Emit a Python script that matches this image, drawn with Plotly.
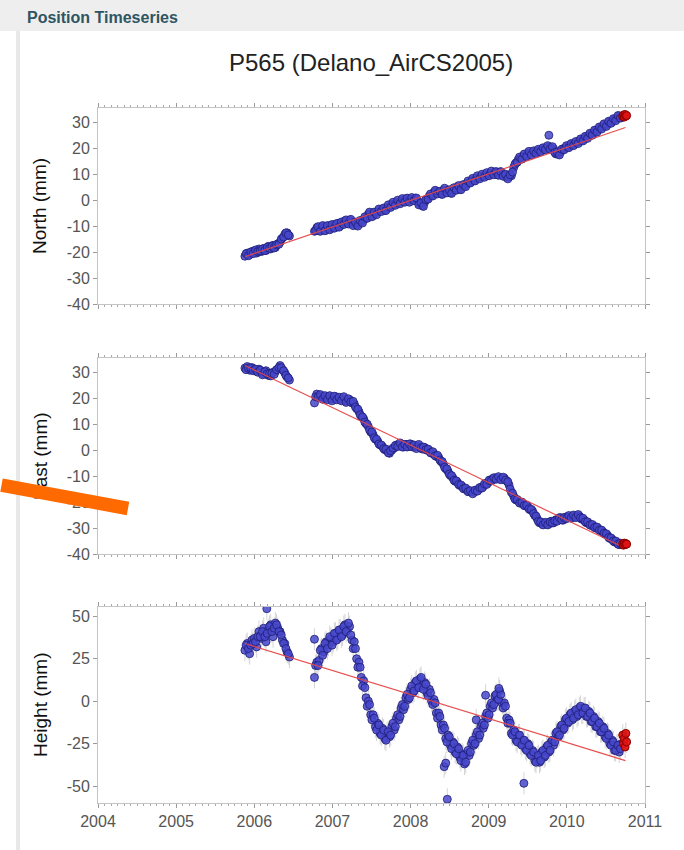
import plotly.graph_objects as go

# ---------------------------------------------------------------- data
station = "P565 (Delano_AirCS2005)"
panel_header = "Position Timeseries"
component_labels = ["North (mm)", "East (mm)", "Height (mm)"]
year_ticks = [2004, 2005, 2006, 2007, 2008, 2009, 2010, 2011]
ne_ticks = [-40, -30, -20, -10, 0, 10, 20, 30]
height_ticks = [-50, -25, 0, 25, 50]

# first occupation (late 2005 - mid 2006)
epoch_seg1 = [2005.88, 2005.91, 2005.94, 2005.97, 2006.00, 2006.03, 2006.06, 2006.09, 2006.12, 2006.15,
              2006.18, 2006.21, 2006.24, 2006.27, 2006.30, 2006.33, 2006.36, 2006.39, 2006.42, 2006.45]
north_seg1 = [-21.6, -20.4, -21.0, -19.8, -19.6, -20.4, -18.8, -19.8, -18.6, -19.4,
              -17.8, -18.8, -17.4, -18.2, -16.8, -16.2, -14.6, -13.2, -12.6, -13.8]
east_seg1 = [31.6, 32.2, 30.8, 31.8, 31.0, 30.4, 31.2, 30.0, 29.4, 30.6,
             28.8, 28.6, 30.0, 30.4, 31.2, 32.6, 31.0, 29.8, 28.2, 27.0]
height_seg1 = [30, 34, 28, 36, 37, 32, 41, 37, 43, 35,
               42, 45, 38, 46, 43, 41, 36, 34, 29, 26]

epoch_seg1_mid = [2005.895, 2005.925, 2005.955, 2005.985, 2006.015, 2006.045, 2006.075, 2006.105,
                  2006.135, 2006.165, 2006.195, 2006.225, 2006.255, 2006.285, 2006.315, 2006.345,
                  2006.375, 2006.405, 2006.435]
north_seg1_mid = [-20.6, -21.4, -20.0, -20.6, -19.2, -19.8, -19.6, -18.8, -19.4, -18.2,
                  -18.6, -17.8, -18.4, -17.2, -17.0, -15.0, -14.2, -12.6, -13.4]
east_seg1_mid = [31.0, 31.6, 31.6, 30.6, 31.2, 30.0, 30.8, 29.0, 30.2, 29.4,
                 29.4, 29.6, 29.2, 31.0, 31.8, 31.8, 30.6, 28.8, 27.8]
height_seg1_mid = [33, 31, 33, 34, 35, 38, 38, 41, 38, 40,
                   44, 41, 43, 45, 41, 39, 34, 31, 28]

# continuous record from late 2006
epoch_seg2 = [2006.77, 2006.80, 2006.83, 2006.86, 2006.89, 2006.92, 2006.95, 2006.98, 2007.01, 2007.04,
              2007.07, 2007.10, 2007.13, 2007.16, 2007.19, 2007.22, 2007.25, 2007.28, 2007.31, 2007.34,
              2007.37, 2007.40, 2007.43, 2007.46, 2007.49, 2007.52, 2007.55, 2007.58, 2007.61, 2007.64,
              2007.67, 2007.70, 2007.73, 2007.76, 2007.79, 2007.82, 2007.85, 2007.88, 2007.91, 2007.94,
              2007.97, 2008.00, 2008.03, 2008.06, 2008.09, 2008.12, 2008.15, 2008.18, 2008.21, 2008.24,
              2008.27, 2008.30, 2008.33, 2008.36, 2008.39, 2008.42, 2008.45, 2008.48, 2008.51, 2008.54,
              2008.57, 2008.60, 2008.63, 2008.66, 2008.69, 2008.72, 2008.75, 2008.78, 2008.81, 2008.84,
              2008.87, 2008.90, 2008.93, 2008.96, 2008.99, 2009.02, 2009.05, 2009.08, 2009.11, 2009.14,
              2009.17, 2009.20, 2009.23, 2009.26, 2009.29, 2009.32, 2009.35, 2009.38, 2009.41, 2009.44,
              2009.47, 2009.50, 2009.53, 2009.56, 2009.59, 2009.62, 2009.65, 2009.68, 2009.71, 2009.74,
              2009.77, 2009.80, 2009.83, 2009.86, 2009.89, 2009.92, 2009.95, 2009.98, 2010.01, 2010.04,
              2010.07, 2010.10, 2010.13, 2010.16, 2010.19, 2010.22, 2010.25, 2010.28, 2010.31, 2010.34,
              2010.37, 2010.40, 2010.43, 2010.46, 2010.49, 2010.52, 2010.55, 2010.58, 2010.61, 2010.64,
              2010.67, 2010.70]
north_seg2 = [-12.0, -10.6, -11.8, -10.9, -10.2, -11.4, -10.0, -10.9, -9.6, -10.4,
              -9.0, -9.9, -8.6, -8.0, -8.9, -7.8, -8.6, -9.2, -9.6, -8.8,
              -8.3, -7.4, -7.0, -5.4, -5.2, -6.0, -4.8, -4.6, -3.8, -3.4,
              -4.0, -2.8, -2.4, -1.6, -1.6, -0.8, -0.9, -0.2, -0.5, 0.4,
              -0.3, 0.2, 0.4, 0.8, -0.5, -1.4, -2.2, -0.8, 0.4, 1.6,
              1.8, 3.0, 3.4, 2.8, 2.4, 3.8, 3.6, 3.6, 2.8, 3.8,
              4.0, 5.0, 4.2, 5.2, 5.4, 6.4, 6.6, 7.6, 7.6, 8.6,
              8.6, 9.2, 9.2, 9.8, 9.6, 10.4, 10.4, 10.8, 9.8, 10.8,
              10.0, 9.8, 8.8, 9.0, 9.4, 12.6, 14.4, 15.8, 16.0, 17.0,
              17.0, 18.0, 18.0, 18.2, 18.6, 18.6, 19.2, 19.2, 20.0, 20.0,
              20.6, 19.8, 19.8, 17.8, 17.8, 18.6, 19.8, 20.0, 20.8, 20.8,
              21.6, 21.6, 22.4, 22.6, 23.4, 23.4, 24.4, 24.6, 25.6, 25.8,
              26.8, 27.0, 28.0, 28.2, 29.0, 29.2, 30.2, 30.2, 31.2, 31.4,
              32.4, 31.8]
east_seg2 = [18.2, 21.6, 20.6, 20.4, 20.4, 20.0, 20.6, 19.8, 19.8, 20.6,
             19.8, 19.6, 20.0, 19.0, 19.0, 19.4, 18.2, 17.8, 16.0, 14.8,
             13.0, 12.0, 10.2, 9.0, 7.0, 6.0, 4.2, 3.4, 2.0, 1.4,
             0.2, -0.2, -1.2, 0.0, 0.8, 2.0, 2.0, 2.0, 1.2, 2.2,
             1.4, 2.4, 1.2, 1.2, 1.4, 1.4, 0.4, 1.0, 0.0, -0.2,
             -1.2, -1.4, -2.4, -2.8, -4.4, -5.4, -7.2, -8.2, -9.8, -10.6,
             -12.0, -12.4, -13.6, -14.0, -15.0, -15.2, -16.0, -16.0, -16.2, -15.4,
             -15.2, -14.4, -14.0, -12.8, -12.6, -11.4, -11.4, -10.8, -10.8, -11.0,
             -11.0, -10.8, -11.8, -13.4, -16.2, -17.8, -19.2, -19.6, -20.4, -20.6,
             -21.4, -21.8, -23.0, -23.4, -25.2, -26.4, -28.0, -28.2, -28.2, -28.4,
             -28.4, -27.4, -28.0, -26.8, -26.8, -26.0, -27.0, -25.8, -25.8, -25.8,
             -25.6, -25.6, -25.4, -25.4, -26.6, -26.8, -28.0, -28.2, -29.0, -29.2,
             -30.0, -30.2, -31.0, -31.4, -32.4, -32.8, -34.0, -34.4, -35.4, -35.6,
             -36.4, -36.4]
height_seg2 = [14, 23, 24, 31, 29, 35, 33, 37, 35, 40,
               37, 42, 39, 45, 42, 44, 36, 35, 25, 23,
               14, 12, 2, 0, -8, -8, -15, -13, -19, -16,
               -22, -19, -21, -15, -17, -10, -11, -4, -5, 2,
               1, 7, 5, 11, 8, 13, 9, 11, 5, 7,
               0, 1, -7, -7, -14, -14, -22, -20, -26, -24,
               -30, -27, -33, -31, -37, -31, -32, -25, -26, -20,
               -22, -15, -16, -9, -10, -3, -4, 3, 1, 6,
               -1, -1, -10, -11, -19, -17, -23, -20, -25, -23,
               -28, -25, -31, -29, -35, -33, -36, -30, -33, -27,
               -30, -24, -26, -19, -21, -15, -17, -11, -13, -8,
               -11, -6, -9, -4, -7, -4, -9, -6, -12, -9,
               -15, -12, -18, -15, -21, -19, -25, -23, -29, -26,
               -30, -25]

epoch_seg2_mid = [2006.785, 2006.815, 2006.845, 2006.875, 2006.905, 2006.935, 2006.965, 2006.995, 2007.025, 2007.055,
                  2007.085, 2007.115, 2007.145, 2007.175, 2007.205, 2007.235, 2007.265, 2007.295, 2007.325, 2007.355,
                  2007.385, 2007.415, 2007.445, 2007.475, 2007.505, 2007.535, 2007.565, 2007.595, 2007.625, 2007.655,
                  2007.685, 2007.715, 2007.745, 2007.775, 2007.805, 2007.835, 2007.865, 2007.895, 2007.925, 2007.955,
                  2007.985, 2008.015, 2008.045, 2008.075, 2008.105, 2008.135, 2008.165, 2008.195, 2008.225, 2008.255,
                  2008.285, 2008.315, 2008.345, 2008.375, 2008.405, 2008.435, 2008.465, 2008.495, 2008.525, 2008.555,
                  2008.585, 2008.615, 2008.645, 2008.675, 2008.705, 2008.735, 2008.765, 2008.795, 2008.825, 2008.855,
                  2008.885, 2008.915, 2008.945, 2008.975, 2009.005, 2009.035, 2009.065, 2009.095, 2009.125, 2009.155,
                  2009.185, 2009.215, 2009.245, 2009.275, 2009.305, 2009.335, 2009.365, 2009.395, 2009.425, 2009.455,
                  2009.485, 2009.515, 2009.545, 2009.575, 2009.605, 2009.635, 2009.665, 2009.695, 2009.725, 2009.755,
                  2009.785, 2009.815, 2009.845, 2009.875, 2009.905, 2009.935, 2009.965, 2009.995, 2010.025, 2010.055,
                  2010.085, 2010.115, 2010.145, 2010.175, 2010.205, 2010.235, 2010.265, 2010.295, 2010.325, 2010.355,
                  2010.385, 2010.415, 2010.445, 2010.475, 2010.505, 2010.535, 2010.565, 2010.595, 2010.625, 2010.655,
                  2010.685]
north_seg2_mid = [-11.8, -10.2, -12.0, -9.8, -11.8, -9.8, -11.4, -9.4, -10.8, -9.0,
                  -10.4, -8.4, -9.4, -7.6, -9.2, -7.4, -9.8, -8.4, -10.0, -7.8,
                  -8.8, -6.4, -7.0, -4.6, -6.4, -4.6, -5.6, -3.4, -4.4, -3.0,
                  -4.0, -1.8, -2.8, -0.8, -2.0, 0.0, -1.4, 0.6, -0.8, 0.8,
                  -0.8, 1.0, -0.2, 0.8, -1.8, -1.0, -2.4, 0.2, 0.4, 2.4,
                  1.6, 3.8, 2.4, 3.4, 2.2, 4.6, 2.8, 4.0, 2.6, 4.8,
                  3.8, 5.6, 4.0, 6.0, 5.2, 7.4, 6.6, 8.4, 7.4, 9.4,
                  8.2, 10.0, 8.8, 10.6, 9.4, 11.2, 9.8, 11.0, 9.6, 11.0,
                  9.2, 10.0, 8.2, 9.8, 10.8, 13.8, 14.6, 16.6, 15.8, 17.8,
                  16.8, 18.8, 17.4, 19.0, 18.0, 19.6, 18.6, 20.2, 19.4, 21.0,
                  19.6, 20.6, 18.4, 18.6, 17.4, 19.6, 19.4, 21.0, 20.2, 21.8,
                  21.0, 22.6, 21.8, 23.6, 22.8, 24.6, 23.8, 25.8, 25.0, 27.0,
                  26.2, 28.2, 27.4, 29.4, 28.4, 30.4, 29.6, 31.4, 30.6, 32.6,
                  31.6]
east_seg2_mid = [20.6, 20.4, 21.4, 19.6, 21.0, 19.4, 21.0, 19.0, 20.8, 19.4,
                 20.4, 19.0, 20.6, 18.4, 19.8, 18.6, 18.8, 16.6, 15.8, 13.6,
                 12.8, 10.8, 10.0, 7.8, 7.0, 4.8, 4.2, 2.4, 2.0, 0.6,
                 0.4, -1.0, -0.2, 0.8, 1.8, 1.4, 2.8, 1.2, 2.2, 1.2,
                 2.4, 1.4, 2.0, 0.6, 2.2, 0.8, 1.2, 0.2, 0.4, -1.0,
                 -0.6, -2.2, -2.0, -3.8, -4.4, -6.6, -7.2, -9.2, -9.8, -11.6,
                 -11.8, -13.2, -13.4, -14.8, -14.6, -16.0, -15.6, -16.8, -15.4, -15.8,
                 -14.4, -14.6, -13.0, -13.2, -11.6, -11.8, -10.6, -11.2, -10.2, -11.4,
                 -10.4, -11.6, -12.2, -15.0, -16.6, -18.8, -19.0, -20.4, -20.0, -21.4,
                 -21.2, -22.6, -22.8, -24.4, -25.4, -27.4, -27.6, -28.8, -27.8, -28.8,
                 -27.6, -28.0, -27.2, -27.4, -26.0, -26.8, -26.0, -26.4, -25.2, -26.2,
                 -25.0, -26.0, -24.8, -26.0, -26.2, -27.6, -27.6, -28.8, -28.6, -29.8,
                 -29.6, -30.8, -30.8, -32.0, -32.2, -33.6, -33.8, -35.0, -35.0, -36.2,
                 -35.8]
height_seg2_mid = [21, 21, 30, 27, 34, 31, 38, 33, 40, 36,
                   42, 38, 44, 41, 46, 39, 31, 31, 20, 20,
                   9, 8, -3, -2, -11, -10, -17, -14, -20, -17,
                   -23, -18, -20, -13, -15, -8, -9, -2, -3, 4,
                   2, 9, 6, 12, 8, 14, 7, 10, 3, 5,
                   -2, -1, -10, -9, -17, -16, -24, -21, -28, -25,
                   -31, -28, -35, -32, -36, -29, -30, -23, -25, -18,
                   -20, -13, -14, -7, -8, -1, -2, 4, 1, 4,
                   -4, -3, -13, -13, -20, -18, -24, -20, -26, -23,
                   -29, -26, -32, -30, -36, -32, -35, -29, -32, -26,
                   -29, -23, -24, -18, -20, -14, -16, -10, -12, -7,
                   -10, -5, -8, -3, -7, -4, -9, -7, -12, -10,
                   -15, -13, -18, -16, -22, -20, -26, -24, -29, -26,
                   -28]

# isolated solutions away from the main band
north_outlier_epochs = [2009.77]
north_outliers = [25.0]
height_outlier_epochs = [2006.16, 2006.77, 2008.43, 2008.45, 2008.47, 2008.84, 2008.96, 2009.13, 2009.45]
height_outliers = [54.5, 36.5, -38.6, -36.5, -57.8, -11.0, 3.5, 7.5, -48.4]

# most recent (rapid) solutions
epoch_recent = [2010.715, 2010.725, 2010.735, 2010.745, 2010.755, 2010.765]
north_recent = [32.2, 32.8, 32.0, 33.0, 32.4, 32.6]
east_recent = [-36.0, -36.6, -35.8, -36.4, -36.0, -36.2]
height_recent = [-20, -25, -22, -27, -19, -24]

# linear velocity fit end points
trend_epochs = [2005.88, 2010.75]
north_trend = [-21.8, 28.0]
east_trend = [32.6, -37.8]
height_trend = [34.0, -35.0]

# typical 1-sigma uncertainties (mm)
sigma_north = 1.5
sigma_east = 1.5
sigma_height = 6.5

# ---------------------------------------------------------------- figure
W, H = 684, 850
X_LEFT, X_RIGHT = 98, 645
PANELS_PX = [(108, 304), (358, 554), (607, 803)]   # top, bottom in pixels


def py(p):
    return 1 - p / H


def ticklabels(vals):
    return [str(v) for v in vals]


BLUE_FILL = "rgba(72,72,205,0.85)"
BLUE_EDGE = "rgba(30,30,118,0.9)"
RED_FILL = "rgba(220,20,20,0.95)"
RED_EDGE = "rgba(140,0,0,1)"
FONT = "Liberation Sans, Arial, Helvetica, sans-serif"

fig = go.Figure()

series = [
    (north_seg1 + north_seg1_mid + north_seg2 + north_seg2_mid, north_recent, north_trend,
     sigma_north, north_outlier_epochs, north_outliers),
    (east_seg1 + east_seg1_mid + east_seg2 + east_seg2_mid, east_recent, east_trend,
     sigma_east, [], []),
    (height_seg1 + height_seg1_mid + height_seg2 + height_seg2_mid, height_recent, height_trend,
     sigma_height, height_outlier_epochs, height_outliers),
]
all_epochs = epoch_seg1 + epoch_seg1_mid + epoch_seg2 + epoch_seg2_mid

for i, (vals, rec, trend, sig, oe, ov) in enumerate(series):
    xa = "x" if i == 0 else f"x{i + 1}"
    ya = "y" if i == 0 else f"y{i + 1}"
    fig.add_trace(go.Scatter(
        x=all_epochs + oe, y=vals + ov, mode="markers", xaxis=xa, yaxis=ya, showlegend=False,
        marker=dict(size=8, color=BLUE_FILL, line=dict(color=BLUE_EDGE, width=0.9)),
        error_y=dict(type="constant", value=sig, color="rgba(150,150,150,0.4)",
                     thickness=1, width=0),
    ))
    fig.add_trace(go.Scatter(
        x=trend_epochs, y=trend, mode="lines", xaxis=xa, yaxis=ya, showlegend=False,
        line=dict(color="rgba(230,70,70,0.95)", width=1.2),
    ))
    fig.add_trace(go.Scatter(
        x=epoch_recent, y=rec, mode="markers", xaxis=xa, yaxis=ya, showlegend=False,
        marker=dict(size=8, color=RED_FILL, line=dict(color=RED_EDGE, width=1)),
        error_y=dict(type="constant", value=sig, color="rgba(150,150,150,0.4)",
                     thickness=1, width=0),
    ))

axis_common = dict(
    showline=True, linecolor="#c4c4c4", linewidth=1, mirror="allticks",
    ticks="outside", tickcolor="#9a9a9a", ticklen=4, tickwidth=1,
    showgrid=False, zeroline=False, automargin=False,
    tickfont=dict(family=FONT, size=16, color="#555555"),
)

layout = dict(
    template="none",
    width=W, height=H, autosize=False, margin=dict(l=0, r=0, t=0, b=0, pad=0),
    paper_bgcolor="white", plot_bgcolor="white", showlegend=False,
)

y_ranges = [[-40, 35.5], [-40, 35.5], [-60, 55.5]]
y_ticks = [ne_ticks, ne_ticks, height_ticks]

for i, ((top, bot), yr, yt) in enumerate(zip(PANELS_PX, y_ranges, y_ticks)):
    xk = "xaxis" if i == 0 else f"xaxis{i + 1}"
    yk = "yaxis" if i == 0 else f"yaxis{i + 1}"
    layout[xk] = dict(
        axis_common, domain=[X_LEFT / W, X_RIGHT / W], range=[2004, 2011],
        tickvals=year_ticks, ticktext=ticklabels(year_ticks),
        showticklabels=(i == 2), anchor="y" if i == 0 else f"y{i + 1}",
        minor=dict(dtick=1 / 12, tick0=2004, ticks="outside", ticklen=2,
                   tickcolor="#a8a8a8", showgrid=False),
    )
    layout[yk] = dict(
        axis_common, domain=[py(bot), py(top)], range=yr,
        tickvals=yt, ticktext=ticklabels(yt),
        anchor="x" if i == 0 else f"x{i + 1}",
    )

fig.update_layout(**layout)

# page chrome: header bar and left border strip
fig.add_shape(type="rect", xref="paper", yref="paper", x0=0, x1=1, y0=py(31), y1=1,
              fillcolor="#eeeeee", line=dict(width=0), layer="below")
fig.add_shape(type="rect", xref="paper", yref="paper", x0=16 / W, x1=20 / W, y0=0, y1=py(31),
              fillcolor="#e8e8e8", line=dict(width=0), layer="below")

annotations = [
    dict(text=f"<b>{panel_header}</b>", x=25 / W, y=py(18), xanchor="left", yanchor="middle",
         font=dict(family=FONT, size=16, color="#2e5563")),
    dict(text=station, x=371 / W, y=py(62), xanchor="center", yanchor="middle",
         font=dict(family=FONT, size=24, color="#222222")),
]
for (top, bot), lab in zip(PANELS_PX, component_labels):
    annotations.append(dict(
        text=lab, x=40 / W, y=py((top + bot) / 2), textangle=-90,
        xanchor="center", yanchor="middle",
        font=dict(family=FONT, size=19, color="#111111"),
    ))
for a in annotations:
    a.update(xref="paper", yref="paper", showarrow=False)

# orange pointer drawn last so it lies over the axis label
annotations.append(dict(
    text=" ", xref="paper", yref="paper", x=128 / W, y=py(508.5),
    ax=-129, ay=-23.6, axref="pixel", ayref="pixel",
    showarrow=True, arrowhead=0, arrowwidth=13.5, arrowcolor="#ff6a00",
    standoff=0, startstandoff=0, font=dict(size=1),
))
fig.update_layout(annotations=annotations)

fig.write_html("out.html")
